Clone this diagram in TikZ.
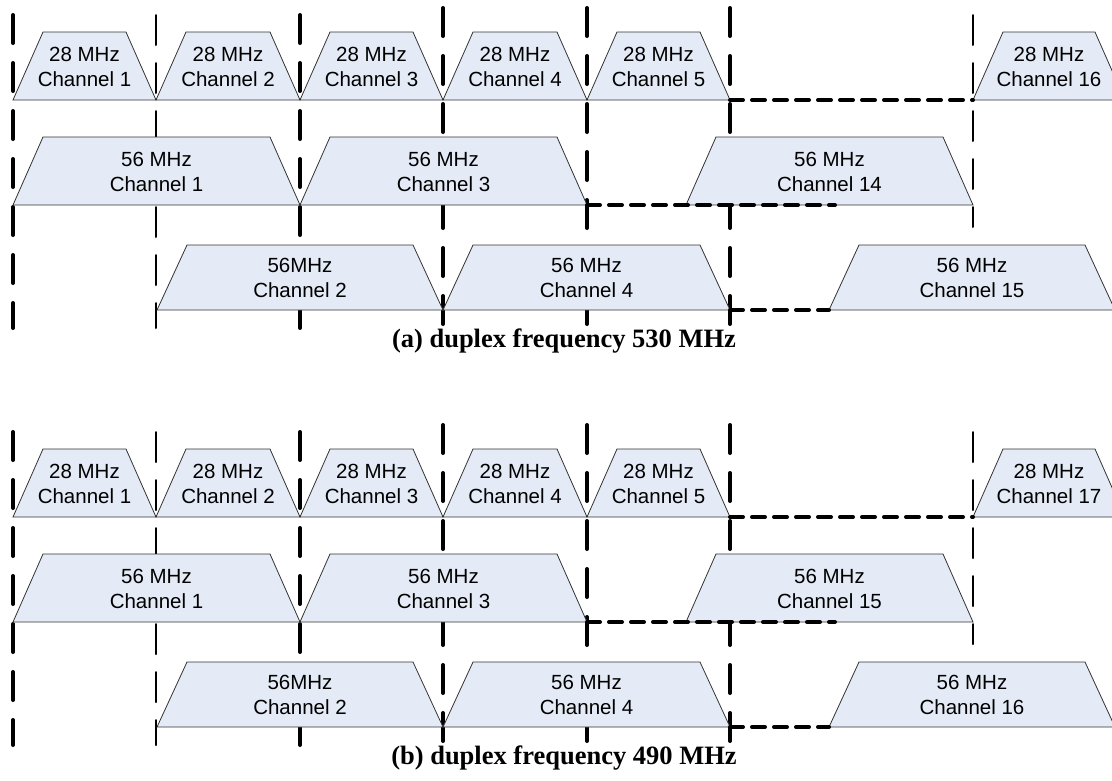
\documentclass[tikz,border=0pt]{standalone}
\usepackage{fontspec}
\setmainfont{Liberation Serif}
\setsansfont{Liberation Sans}
\usepackage{tikz}
\usepackage{xcolor}
\definecolor{chanfill}{RGB}{228,235,246}

\begin{document}
\begin{tikzpicture}[x=1pt,y=-1pt,
    chan/.style={fill=chanfill, draw=black!80, line width=0.8pt},
    lbl/.style={font=\sffamily\fontsize{20.5}{25}\selectfont, align=center, inner sep=0pt},
    vthick/.style={line width=4pt, line cap=round, dash pattern=on 28pt off 20pt},
    vthin/.style={line width=2pt, line cap=round, dash pattern=on 30pt off 18pt},
    hdash/.style={line width=4pt, line cap=round, dash pattern=on 13pt off 9pt},
    capt/.style={font=\rmfamily\bfseries\fontsize{26.5}{30}\selectfont, inner sep=0pt}]
\useasboundingbox (0,0) rectangle (1112,780);
%%%%% (a)
\begin{scope}
    % lignes verticales
    \draw[vthick] (13,15) -- (13,328);
    \draw[vthin] (156,15) -- (156,328);
    \draw[vthick] (300,15) -- (300,328);
    \draw[vthick] (443,8) -- (443,328);
    \draw[vthick] (587,8) -- (587,328);
    \draw[vthick] (730,8) -- (730,328);
    \draw[vthin] (973,15) -- (973,227);
    % 28 MHz
    \filldraw[chan] (13,100) -- (43,32) -- (126,32) -- (156,100) -- cycle;
    \filldraw[chan] (156,100) -- (186,32) -- (270,32) -- (300,100) -- cycle;
    \filldraw[chan] (300,100) -- (330,32) -- (413,32) -- (443,100) -- cycle;
    \filldraw[chan] (443,100) -- (473,32) -- (557,32) -- (587,100) -- cycle;
    \filldraw[chan] (587,100) -- (617,32) -- (700,32) -- (730,100) -- cycle;
    \filldraw[chan] (973,100) -- (1003,32) -- (1095,32) -- (1125,100) -- cycle;
    \node[lbl] (a28c1) at (84.5,67) {28 MHz\\Channel 1};
    \node[lbl] (a28c2) at (228,67) {28 MHz\\Channel 2};
    \node[lbl] (a28c3) at (371.5,67) {28 MHz\\Channel 3};
    \node[lbl] (a28c4) at (515,67) {28 MHz\\Channel 4};
    \node[lbl] (a28c5) at (658.5,67) {28 MHz\\Channel 5};
    \node[lbl] (a28c16) at (1049,67) {28 MHz\\Channel 16};
    % 56 MHz, impairs
    \filldraw[chan] (13,205) -- (43,137) -- (270,137) -- (300,205) -- cycle;
    \filldraw[chan] (300,205) -- (330,137) -- (557,137) -- (587,205) -- cycle;
    \filldraw[chan] (686,205) -- (716,137) -- (943,137) -- (973,205) -- cycle;
    \node[lbl] (a56c1) at (156.5,172) {56 MHz\\Channel 1};
    \node[lbl] (a56c3) at (443.5,172) {56 MHz\\Channel 3};
    \node[lbl] (a56c14) at (829.5,172) {56 MHz\\Channel 14};
    % 56 MHz, pairs
    \filldraw[chan] (157,310) -- (187,245) -- (413,245) -- (443,310) -- cycle;
    \filldraw[chan] (443,310) -- (473,245) -- (700,245) -- (730,310) -- cycle;
    \filldraw[chan] (829,310) -- (859,245) -- (1085,245) -- (1115,310) -- cycle;
    \node[lbl] (a56c2) at (300,278) {56MHz\\Channel 2};
    \node[lbl] (a56c4) at (586.5,278) {56 MHz\\Channel 4};
    \node[lbl] (a56c15) at (972,278) {56 MHz\\Channel 15};
    % trous
    \draw[hdash] (730,100) -- (973,100);
    \draw[hdash] (587,205) -- (835,205);
    \draw[hdash] (730,310) -- (829,310);
    \node[capt] (capa) at (564,341) {(a) duplex frequency 530 MHz};
\end{scope}
%%%%% (b)
\begin{scope}[yshift=-417pt]
    % lignes verticales
    \draw[vthick] (13,15) -- (13,328);
    \draw[vthin] (156,15) -- (156,328);
    \draw[vthick] (300,15) -- (300,328);
    \draw[vthick] (443,8) -- (443,328);
    \draw[vthick] (587,8) -- (587,328);
    \draw[vthick] (730,8) -- (730,328);
    \draw[vthin] (973,15) -- (973,227);
    % 28 MHz
    \filldraw[chan] (13,100) -- (43,32) -- (126,32) -- (156,100) -- cycle;
    \filldraw[chan] (156,100) -- (186,32) -- (270,32) -- (300,100) -- cycle;
    \filldraw[chan] (300,100) -- (330,32) -- (413,32) -- (443,100) -- cycle;
    \filldraw[chan] (443,100) -- (473,32) -- (557,32) -- (587,100) -- cycle;
    \filldraw[chan] (587,100) -- (617,32) -- (700,32) -- (730,100) -- cycle;
    \filldraw[chan] (973,100) -- (1003,32) -- (1095,32) -- (1125,100) -- cycle;
    \node[lbl] (b28c1) at (84.5,67) {28 MHz\\Channel 1};
    \node[lbl] (b28c2) at (228,67) {28 MHz\\Channel 2};
    \node[lbl] (b28c3) at (371.5,67) {28 MHz\\Channel 3};
    \node[lbl] (b28c4) at (515,67) {28 MHz\\Channel 4};
    \node[lbl] (b28c5) at (658.5,67) {28 MHz\\Channel 5};
    \node[lbl] (b28c17) at (1049,67) {28 MHz\\Channel 17};
    % 56 MHz, impairs
    \filldraw[chan] (13,205) -- (43,137) -- (270,137) -- (300,205) -- cycle;
    \filldraw[chan] (300,205) -- (330,137) -- (557,137) -- (587,205) -- cycle;
    \filldraw[chan] (686,205) -- (716,137) -- (943,137) -- (973,205) -- cycle;
    \node[lbl] (b56c1) at (156.5,172) {56 MHz\\Channel 1};
    \node[lbl] (b56c3) at (443.5,172) {56 MHz\\Channel 3};
    \node[lbl] (b56c15) at (829.5,172) {56 MHz\\Channel 15};
    % 56 MHz, pairs
    \filldraw[chan] (157,310) -- (187,245) -- (413,245) -- (443,310) -- cycle;
    \filldraw[chan] (443,310) -- (473,245) -- (700,245) -- (730,310) -- cycle;
    \filldraw[chan] (829,310) -- (859,245) -- (1085,245) -- (1115,310) -- cycle;
    \node[lbl] (b56c2) at (300,278) {56MHz\\Channel 2};
    \node[lbl] (b56c4) at (586.5,278) {56 MHz\\Channel 4};
    \node[lbl] (b56c16) at (972,278) {56 MHz\\Channel 16};
    % trous
    \draw[hdash] (730,100) -- (973,100);
    \draw[hdash] (587,205) -- (835,205);
    \draw[hdash] (730,310) -- (829,310);
    \node[capt] (capb) at (564,341) {(b) duplex frequency 490 MHz};
\end{scope}
\end{tikzpicture}
\end{document}
